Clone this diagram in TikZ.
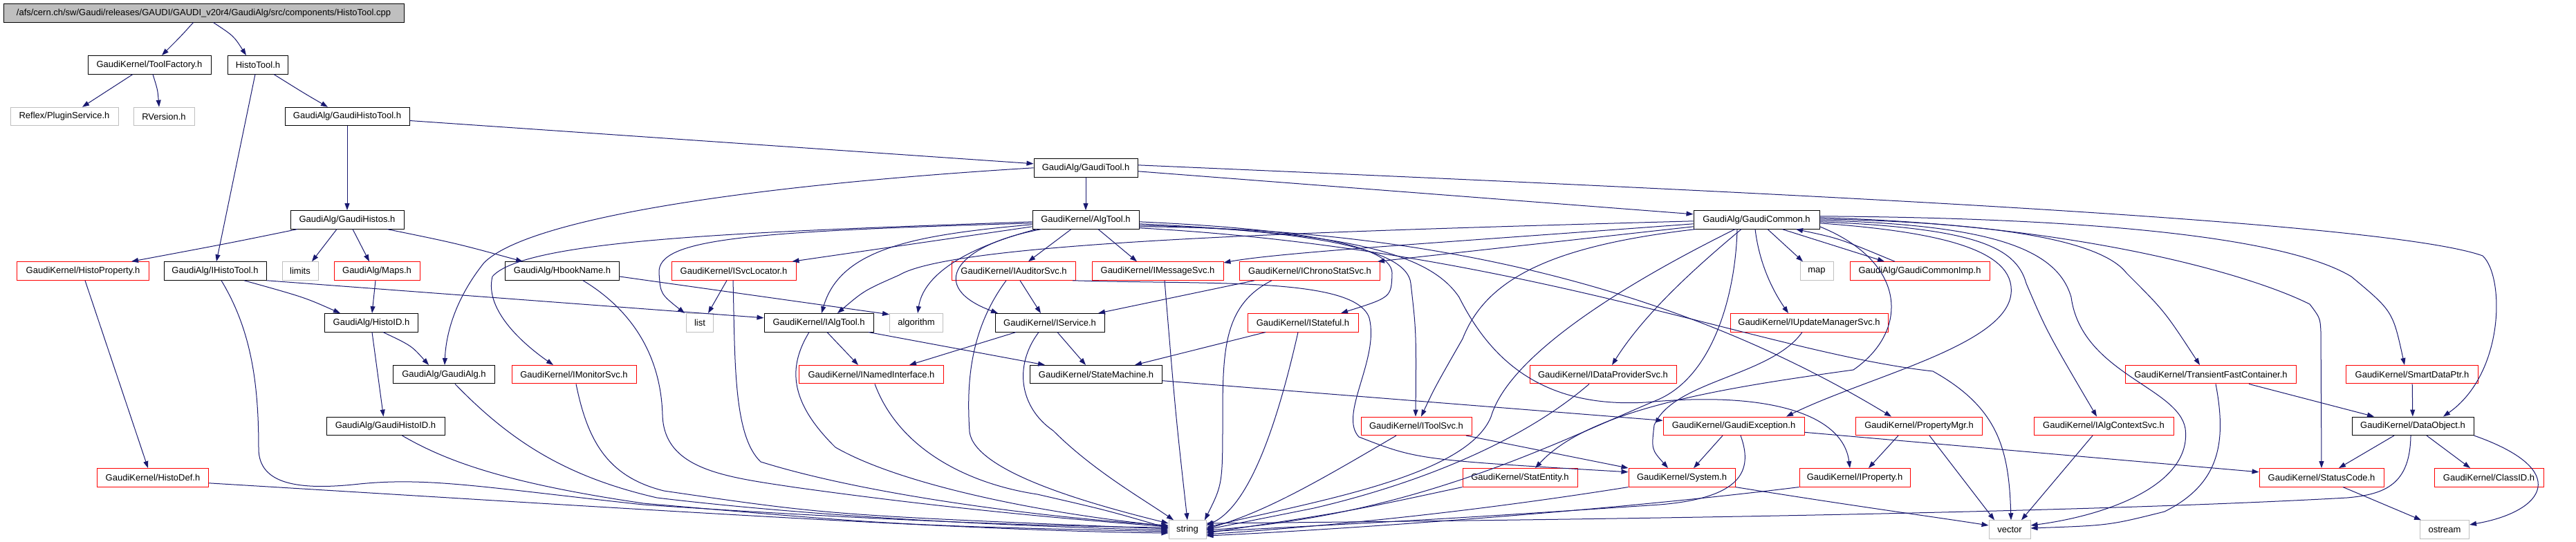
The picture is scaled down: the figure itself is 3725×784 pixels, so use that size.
\documentclass[tikz,border=0pt]{standalone}
\usepackage{fontspec}
\setmainfont{Liberation Sans}
\usetikzlibrary{arrows.meta}
\definecolor{edgec}{RGB}{25,25,112}
\definecolor{boxred}{RGB}{255,0,0}
\definecolor{boxgray}{RGB}{191,191,191}
\begin{document}
\begin{tikzpicture}[x=1pt,y=-1pt,
 nb/.style={draw=black,line width=1pt,minimum height=26.5pt,inner sep=0pt,font=\fontsize{13}{15}\selectfont},
 nr/.style={nb,draw=boxred},
 ng/.style={nb,draw=boxgray},
 edg/.style={draw=edgec,line width=1pt,-{Triangle[length=10pt,width=7pt]}},
]
\useasboundingbox[fill=white] (0,0) rectangle (3725,784);
% row 0
\node[nb,fill=boxgray,minimum width=579pt] (root) at (294.5,18.8) {/afs/cern.ch/sw/Gaudi/releases/GAUDI/GAUDI\_v20r4/GaudiAlg/src/components/HistoTool.cpp};
% row 1
\node[nb,minimum width=178pt] (tf) at (216,93.8) {GaudiKernel/ToolFactory.h};
\node[nb,minimum width=87pt] (ht) at (373,93.8) {HistoTool.h};
% row 2
\node[ng,minimum width=156pt] (ps) at (93,168.5) {Reflex/PluginService.h};
\node[ng,minimum width=88pt] (rv) at (237,168.5) {RVersion.h};
\node[nb,minimum width=180pt] (ght) at (502,168.5) {GaudiAlg/GaudiHistoTool.h};
% row 3
\node[nb,minimum width=150pt] (gt) at (1570,242.8) {GaudiAlg/GaudiTool.h};
% row 4
\node[nb,minimum width=164pt] (ghs) at (502,317.8) {GaudiAlg/GaudiHistos.h};
\node[nb,minimum width=154pt] (algt) at (1570,317.8) {GaudiKernel/AlgTool.h};
\node[nb,minimum width=182pt] (gc) at (2540,317.8) {GaudiAlg/GaudiCommon.h};
% row 5
\node[nr,minimum width=191pt] (hp) at (120,392) {GaudiKernel/HistoProperty.h};
\node[nb,minimum width=148pt] (iht) at (311,392) {GaudiAlg/IHistoTool.h};
\node[ng,minimum width=52pt] (lim) at (434,392) {limits};
\node[nr,minimum width=124pt] (maps) at (545,392) {GaudiAlg/Maps.h};
\node[nb,minimum width=165pt] (hbn) at (813,392) {GaudiAlg/HbookName.h};
\node[nr,minimum width=180pt] (isl) at (1061,392) {GaudiKernel/ISvcLocator.h};
\node[nr,minimum width=179pt] (ias) at (1466,392) {GaudiKernel/IAuditorSvc.h};
\node[nr,minimum width=190pt] (ims) at (1674,392) {GaudiKernel/IMessageSvc.h};
\node[nr,minimum width=203pt] (ics) at (1894,392) {GaudiKernel/IChronoStatSvc.h};
\node[ng,minimum width=48pt] (map) at (2627,392) {map};
\node[nr,minimum width=202pt] (gci) at (2776,392) {GaudiAlg/GaudiCommonImp.h};
% row 6
\node[nb,minimum width=135pt] (hid) at (537,466.8) {GaudiAlg/HistoID.h};
\node[ng,minimum width=39pt] (list) at (1012,466.8) {list};
\node[nb,minimum width=158pt] (iat) at (1184,466.8) {GaudiKernel/IAlgTool.h};
\node[ng,minimum width=77pt] (algo) at (1325,466.8) {algorithm};
\node[nb,minimum width=158pt] (isv) at (1518,466.8) {GaudiKernel/IService.h};
\node[nr,minimum width=160pt] (ist) at (1884,466.8) {GaudiKernel/IStateful.h};
\node[nr,minimum width=228pt] (iums) at (2616,466.8) {GaudiKernel/IUpdateManagerSvc.h};
% row 7
\node[nb,minimum width=147pt] (galg) at (642,541.7) {GaudiAlg/GaudiAlg.h};
\node[nr,minimum width=180pt] (imon) at (830,541.7) {GaudiKernel/IMonitorSvc.h};
\node[nr,minimum width=209pt] (ini) at (1260,541.7) {GaudiKernel/INamedInterface.h};
\node[nb,minimum width=191pt] (sm) at (1585,541.7) {GaudiKernel/StateMachine.h};
\node[nr,minimum width=212pt] (idp) at (2318,541.7) {GaudiKernel/IDataProviderSvc.h};
\node[nr,minimum width=247pt] (tfc) at (3197,541.7) {GaudiKernel/TransientFastContainer.h};
\node[nr,minimum width=191pt] (sdp) at (3488,541.7) {GaudiKernel/SmartDataPtr.h};
% row 8
\node[nb,minimum width=171pt] (ghid) at (557.5,616.3) {GaudiAlg/GaudiHistoID.h};
\node[nr,minimum width=160pt] (its) at (2048,616.3) {GaudiKernel/IToolSvc.h};
\node[nr,minimum width=204pt] (gex) at (2507,616.3) {GaudiKernel/GaudiException.h};
\node[nr,minimum width=183pt] (pmgr) at (2775,616.3) {GaudiKernel/PropertyMgr.h};
\node[nr,minimum width=202pt] (iacs) at (3042,616.3) {GaudiKernel/IAlgContextSvc.h};
\node[nb,minimum width=176pt] (dobj) at (3489,616.3) {GaudiKernel/DataObject.h};
% row 9
\node[nr,minimum width=161pt] (hdef) at (221,690.8) {GaudiKernel/HistoDef.h};
\node[nr,minimum width=166pt] (sent) at (2198,690.8) {GaudiKernel/StatEntity.h};
\node[nr,minimum width=154pt] (sys) at (2432,690.8) {GaudiKernel/System.h};
\node[nr,minimum width=160pt] (iprop) at (2682,690.8) {GaudiKernel/IProperty.h};
\node[nr,minimum width=180pt] (sc) at (3357,690.8) {GaudiKernel/StatusCode.h};
\node[nr,minimum width=158pt] (cid) at (3599,690.8) {GaudiKernel/ClassID.h};
% row 10
\node[ng,minimum width=54pt] (str) at (1717,766) {string};
\node[ng,minimum width=60pt] (vec) at (2906,766) {vector};
\node[ng,minimum width=71pt] (ost) at (3535,766) {ostream};

% ---------------- edges ----------------
\draw[edg] ([xshift=-15pt]root.south) .. controls (262,52) .. ([xshift=18pt]tf.north);
\draw[edg] ([xshift=14pt]root.south) .. controls (338,52) .. ([xshift=-17pt]ht.north);
\draw[edg] ([xshift=-24pt]tf.south) -- ([xshift=26pt]ps.north);
\draw[edg] ([xshift=5pt]tf.south) .. controls (228,130) .. ([xshift=-7pt]rv.north);
\draw[edg] ([xshift=-4pt]ht.south) -- ([xshift=2pt]iht.north);
\draw[edg] ([xshift=23pt]ht.south) .. controls (440,135) .. ([xshift=-28pt]ght.north);
\draw[edg] (ght) -- (ghs);
\draw[edg] ([yshift=-6pt]ght.east) -- ([yshift=6pt]gt.west);
\draw[edg] ([xshift=-72pt]ghs.south) .. controls (330,352) .. ([xshift=70pt]hp.north);
\draw[edg] ([xshift=-15pt]ghs.south) -- ([xshift=17pt]lim.north);
\draw[edg] ([xshift=8pt]ghs.south) -- ([xshift=-11pt]maps.north);
\draw[edg] ([xshift=58pt]ghs.south) .. controls (660,352) .. ([xshift=-57pt]hbn.north);
\draw[edg] ([xshift=3pt]hp.south) -- ([xshift=-7pt]hdef.north);
\draw[edg] ([xshift=42pt]iht.south) .. controls (440,430) .. ([xshift=-45pt]hid.north);
\draw[edg] (iht.south east) -- ([yshift=7pt]iat.west);
\draw[edg] ([xshift=9pt]iht.south) .. controls (365,480) and (374,560) .. (374,650) .. controls (375,700) and (430,710) .. (520,700) .. controls (620,690) and (700,705) .. (930,730) .. controls (1300,755) and (1550,762) .. ([yshift=3pt]str.west);
\draw[edg] ([xshift=-2pt]maps.south) -- ([xshift=1pt]hid.north);
\draw[edg] ([yshift=-8pt]hbn.east) -- ([yshift=12pt]algo.west);
\draw[edg] ([xshift=30pt]hbn.south) .. controls (900,440) and (955,500) .. (958,600) .. controls (960,680) and (1050,690) .. (1150,705) .. controls (1400,740) and (1600,755) .. ([yshift=4pt]str.west);
\draw[edg] ([xshift=17pt]hid.south) .. controls (595,500) .. ([xshift=-22pt]galg.north);
\draw[edg] ([xshift=1pt]hid.south) -- ([xshift=-3pt]ghid.north);
\draw[edg] ([xshift=16pt]galg.south) .. controls (740,640) and (820,690) .. (950,720) .. controls (1200,750) and (1500,762) .. ([yshift=-1pt]str.west);
\draw[edg] ([xshift=24pt]ghid.south) .. controls (650,670) and (740,700) .. (930,728) .. controls (1300,760) .. ([yshift=-3pt]str.west);
\draw[edg] ([yshift=-8pt]hdef.east) .. controls (900,735) and (1400,768) .. ([yshift=-5pt]str.west);
\draw[edg] ([xshift=3pt]imon.south) .. controls (850,640) and (880,690) .. (960,710) .. controls (1200,745) .. ([yshift=1pt]str.west);
% GaudiTool
\draw[edg] (gt) -- (algt);
\draw[edg] ([yshift=-5pt]gt.east) -- ([yshift=8pt]gc.west);
\draw[edg] (gt.west) .. controls (1050,270) and (760,320) .. (700,380) .. controls (660,430) and (645,480) .. ([xshift=1pt]galg.north);
\draw[edg] ([yshift=4pt]gt.east) .. controls (2600,280) and (3450,320) .. (3590,370) .. controls (3622,400) and (3622,540) .. ([xshift=44pt]dobj.north);
% AlgTool
\draw[edg] ([yshift=-3pt]algt.west) .. controls (1100,335) and (760,345) .. (712,400) .. controls (700,450) and (760,500) .. ([xshift=-30pt]imon.north);
\draw[edg] ([yshift=-5pt]algt.west) .. controls (1080,335) and (950,345) .. (953,395) .. controls (955,425) .. ([xshift=-22pt]list.north);
\draw[edg] ([yshift=-10pt]algt.west) -- ([xshift=-6pt]isl.north east);
\draw[edg] ([yshift=-7pt]algt.west) .. controls (1320,340) and (1215,360) .. ([xshift=4pt]iat.north);
\draw[edg] ([yshift=-2pt]gc.west) .. controls (1900,335) and (1380,350) .. (1300,398) .. controls (1250,420) .. ([xshift=27pt]iat.north);
\draw[edg] ([xshift=-71pt]algt.south) .. controls (1390,360) and (1335,400) .. ([xshift=2pt]algo.north);
\draw[edg] ([xshift=-64pt]algt.south) .. controls (1380,355) and (1340,415) .. ([xshift=-75pt]isv.north);
\draw[edg] ([xshift=-21pt]algt.south) -- ([xshift=21pt]ias.north);
\draw[edg] ([xshift=18pt]algt.south) -- ([xshift=-30pt]ims.north);
\draw[edg] ([yshift=-3pt]algt.east) .. controls (1850,330) and (2012,350) .. (2013,395) .. controls (2012,430) .. ([xshift=55pt]ist.north);
\draw[edg] ([yshift=-6pt]algt.east) .. controls (1900,335) and (2035,360) .. (2040,410) .. controls (2048,480) .. ([xshift=-1pt]its.north);
\draw[edg] ([xshift=-88pt]gc.south) .. controls (2250,355) and (2150,400) .. (2115,490) .. controls (2075,560) .. ([xshift=7pt]its.north);
\draw[edg] ([yshift=-8pt]algt.east) .. controls (1960,335) and (2070,370) .. (2110,430) .. controls (2160,530) and (2240,590) .. (2380,582) .. controls (2560,565) and (2665,600) .. ([xshift=-7pt]iprop.north);
\draw[edg] ([yshift=-10pt]algt.east) .. controls (2100,330) and (2450,430) .. ([xshift=-40pt]pmgr.north);
\draw[edg] ([yshift=-12pt]algt.east) .. controls (2200,360) and (2550,510) .. (2795,537) .. controls (2890,590) and (2905,650) .. ([xshift=2pt]vec.north);
% interfaces
\draw[edg] ([xshift=9pt]ias.south) -- ([xshift=-13pt]isv.north);
\draw[edg] ([xshift=-11pt]ias.south) .. controls (1400,480) and (1398,560) .. (1402,625) .. controls (1410,680) and (1560,725) .. ([yshift=9pt]str.west);
\draw[edg] ([xshift=85pt]ias.south) .. controls (1750,412) and (1960,400) .. (1980,460) .. controls (1995,520) and (1935,600) .. (1965,632) .. controls (2050,665) .. ([yshift=8pt]sys.west);
\draw[edg] ([xshift=10pt]ims.south) .. controls (1700,600) .. (str.north);
\draw[edg] ([xshift=-80pt]ics.south) -- ([xshift=70pt]isv.north);
\draw[edg] ([xshift=-55pt]ics.south) .. controls (1772,440) and (1768,500) .. (1768,600) .. controls (1768,700) .. ([xshift=25pt]str.north);
\draw[edg] ([xshift=-10pt]isl.south) -- ([xshift=12pt]list.north);
\draw[edg] ([xshift=-1pt]isl.south) .. controls (1063,520) and (1060,630) .. (1100,668) .. controls (1250,715) and (1500,748) .. ([yshift=6pt]str.west);
\draw[edg] ([xshift=12pt]iat.south) -- ([xshift=-19pt]ini.north);
\draw[edg] ([xshift=72pt]iat.south) -- ([xshift=-74pt]sm.north);
\draw[edg] ([xshift=-14pt]iat.south) .. controls (1140,530) and (1140,580) .. (1208,647) .. controls (1300,700) and (1500,742) .. ([yshift=5pt]str.west);
\draw[edg] ([xshift=-49pt]isv.south) -- ([xshift=55pt]ini.north);
\draw[edg] ([xshift=11pt]isv.south) -- ([xshift=-15pt]sm.north);
\draw[edg] ([xshift=-16pt]isv.south) .. controls (1465,530) and (1475,590) .. (1523,623) .. controls (1580,680) and (1650,720) .. ([xshift=-20pt]str.north);
\draw[edg] ([xshift=5pt]ini.south) .. controls (1300,650) and (1400,700) .. (1500,715) .. controls (1600,738) .. ([yshift=2pt]str.west);
\draw[edg] ([xshift=-54pt]ist.south) -- ([xshift=56pt]sm.north);
\draw[edg] ([xshift=-7pt]ist.south) .. controls (1850,600) and (1810,730) .. ([yshift=6pt]str.east);
\draw[edg] ([yshift=-9pt]sm.east) -- ([yshift=8pt]gex.west);
% GaudiCommon
\draw[edg] ([yshift=-10pt]gc.west) -- ([xshift=-4pt]ics.north east);
\draw[edg] ([yshift=-6pt]gc.west) .. controls (2100,350) and (1850,365) .. ([yshift=12pt]ims.east);
\draw[edg] ([xshift=16pt]gc.south) -- ([xshift=-20pt]map.north);
\draw[edg] ([xshift=37pt]gc.south) -- ([xshift=-51pt]gci.north);
\draw[edg] ([xshift=-36pt]gci.north) .. controls (2660,345) .. ([xshift=57pt]gc.south);
\draw[edg] ([xshift=-31pt]gc.south) .. controls (2330,420) and (2180,520) .. (2156,603) .. controls (2120,690) and (1900,725) .. ([yshift=3pt]str.east);
\draw[edg] ([xshift=-28pt]gc.south) .. controls (2510,420) and (2480,540) .. (2400,577) .. controls (2250,640) and (2050,745) .. ([yshift=-1pt]str.east);
\draw[edg] ([xshift=-22pt]gc.south) .. controls (2460,380) and (2380,450) .. ([xshift=13pt]idp.north);
\draw[edg] ([xshift=-2pt]gc.south) .. controls (2545,390) and (2570,430) .. ([xshift=-30pt]iums.north);
\draw[edg] ([yshift=-5pt]gc.east) .. controls (2800,335) and (2915,360) .. (2908,425) .. controls (2900,500) and (2700,545) .. ([xshift=76pt]gex.north);
\draw[edg] ([yshift=-3pt]gc.east) .. controls (2850,330) and (2915,355) .. (2930,410) .. controls (2960,480) .. ([xshift=-10pt]iacs.north);
\draw[edg] ([yshift=-1pt]gc.east) .. controls (2880,325) and (2975,360) .. (2995,430) .. controls (3010,540) and (3150,560) .. (3160,620) .. controls (3170,700) and (3050,745) .. ([yshift=6pt]vec.east);
\draw[edg] ([yshift=1pt]gc.east) .. controls (2900,322) and (3040,350) .. (3075,395) .. controls (3130,450) .. ([xshift=-16pt]tfc.north);
\draw[edg] ([yshift=3pt]gc.east) .. controls (3000,325) and (3250,395) .. (3340,440) .. controls (3355,460) .. (3356,480) -- (sc.north);
\draw[edg] ([yshift=5pt]gc.east) .. controls (3000,315) and (3300,340) .. (3400,400) .. controls (3460,450) .. ([xshift=-11pt]sdp.north);
\draw[edg] ([yshift=-10pt]gc.east) .. controls (2760,380) and (2760,480) .. (2680,535) .. controls (2500,560) and (2300,590) .. ([xshift=22pt]sent.north);
\draw[edg] ([xshift=-10pt]iums.south) .. controls (2560,545) and (2420,550) .. (2392,615) .. controls (2388,650) .. ([xshift=-20pt]sys.north);
% lower layers
\draw[edg] ([xshift=-16pt]gex.south) -- ([xshift=17pt]sys.north);
\draw[edg] ([xshift=10pt]gex.south) .. controls (2535,680) and (2520,720) .. (2400,730) .. controls (2100,750) .. ([yshift=-3pt]str.east);
\draw[edg] ([yshift=-9pt]gex.east) -- ([yshift=8pt]sc.west);
\draw[edg] ([xshift=72pt]its.south) -- (sys.north west);
\draw[edg] ([xshift=-29pt]its.south) .. controls (1900,700) and (1830,740) .. ([yshift=1pt]str.east);
\draw[edg] ([xshift=-20pt]idp.south) .. controls (2200,640) and (2050,700) .. (1900,735) .. controls (1800,755) .. ([yshift=0pt]str.east);
\draw[edg] (sent.south west) .. controls (1950,740) .. ([yshift=-5pt]str.east);
\draw[edg] (sys.south west) .. controls (2100,745) and (1900,762) .. ([yshift=-7pt]str.east);
\draw[edg] (sys.south east) .. controls (2700,735) and (2800,748) .. ([yshift=6pt]vec.west);
\draw[edg] (iprop.south west) .. controls (2300,742) and (1900,768) .. ([yshift=-9pt]str.east);
\draw[edg] ([xshift=-30pt]pmgr.south) -- ([xshift=20pt]iprop.north);
\draw[edg] ([xshift=15pt]pmgr.south) -- ([xshift=-22pt]vec.north);
\draw[edg] ([xshift=-16pt]iacs.south) -- ([xshift=17pt]vec.north);
\draw[edg] ([xshift=55pt]tfc.south) -- ([xshift=-56pt]dobj.north);
\draw[edg] ([xshift=7pt]tfc.south) .. controls (3220,640) and (3210,700) .. (3130,740) .. controls (3050,760) .. ([yshift=2pt]vec.east);
\draw[edg] (sdp) -- (dobj);
\draw[edg] ([xshift=-27pt]dobj.south) -- ([xshift=25pt]sc.north);
\draw[edg] ([xshift=20pt]dobj.south) -- ([xshift=-27pt]cid.north);
\draw[edg] (dobj.south east) .. controls (3720,680) and (3680,740) .. ([yshift=7pt]ost.east);
\draw[edg] ([xshift=-3pt]dobj.south) .. controls (3485,700) and (3450,715) .. (3394,720) .. controls (3000,742) and (2300,752) .. ([yshift=9pt]str.east);
\draw[edg] ([xshift=31pt]sc.south) -- ([xshift=-34pt]ost.north);
\end{tikzpicture}
\end{document}
